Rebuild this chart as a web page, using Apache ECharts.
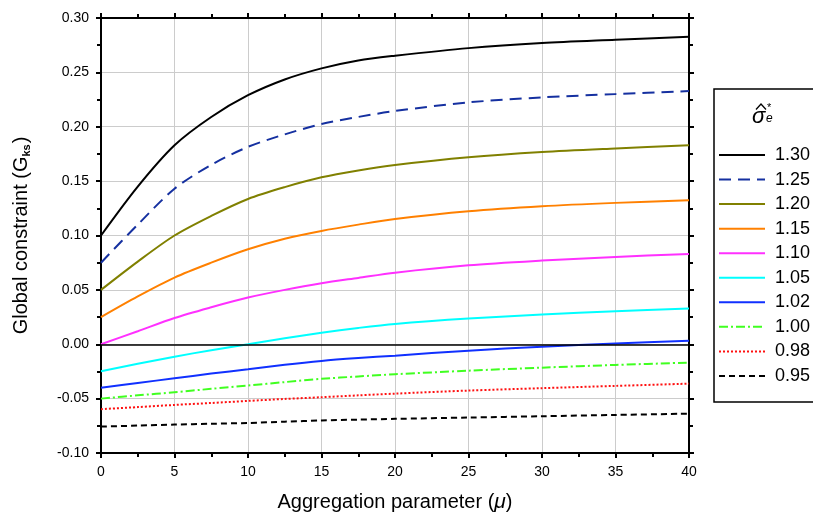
<!DOCTYPE html>
<html>
<head>
<meta charset="utf-8">
<script src="https://cdn.jsdelivr.net/npm/echarts@6/dist/echarts.min.js"></script>
<style>
  html, body { margin: 0; padding: 0; background: #fff; }
  #chart { width: 813px; height: 518px; }
</style>
</head>
<body>
<div id="chart"></div>
<script>
const FONT = 'Liberation Sans, Arial, sans-serif';

// aggregation parameter (mu) sample points
const muValues = [0, 2.5, 5, 7.5, 10, 12.5, 15, 17.5, 20, 25, 30, 35, 40];

// series names (sigma_e hat *)
const seriesNames = ['1.30', '1.25', '1.20', '1.15', '1.10', '1.05', '1.02', '1.00', '0.98', '0.95'];

// global constraint values
const g130 = [0.100, 0.145, 0.183, 0.209, 0.229, 0.2435, 0.2537, 0.261, 0.2653, 0.2723, 0.277, 0.280, 0.2828];
const g125 = [0.075, 0.110, 0.143, 0.165, 0.1815, 0.193, 0.2025, 0.209, 0.2145, 0.2224, 0.227, 0.230, 0.2328];
const g120 = [0.050, 0.076, 0.100, 0.118, 0.1336, 0.1445, 0.1535, 0.1598, 0.1648, 0.1719, 0.1767, 0.180, 0.1829];
const g115 = [0.025, 0.044, 0.0613, 0.075, 0.0873, 0.097, 0.1042, 0.110, 0.1152, 0.1223, 0.1269, 0.130, 0.1324];
const g110 = [0.000, 0.012, 0.0242, 0.034, 0.0429, 0.050, 0.0561, 0.061, 0.0658, 0.0726, 0.0769, 0.0803, 0.083];
const g105 = [-0.0248, -0.018, -0.0114, -0.0055, 0.000, 0.0055, 0.0106, 0.015, 0.0187, 0.0236, 0.0273, 0.0303, 0.0328];
const g102 = [-0.0399, -0.0356, -0.0313, -0.027, -0.023, -0.0188, -0.0153, -0.0127, -0.0105, -0.0059, -0.0022, 0.0006, 0.0033];
const g100 = [-0.050, -0.047, -0.0441, -0.041, -0.038, -0.0348, -0.0318, -0.0296, -0.0276, -0.0243, -0.0215, -0.019, -0.0169];
const g098 = [-0.0597, -0.0578, -0.0558, -0.054, -0.0521, -0.0503, -0.0487, -0.047, -0.0454, -0.0426, -0.0404, -0.0383, -0.0362];
const g095 = [-0.0757, -0.0748, -0.0739, -0.0731, -0.0724, -0.0712, -0.0701, -0.0693, -0.0686, -0.0674, -0.0662, -0.065, -0.0638];

const allValues = [g130, g125, g120, g115, g110, g105, g102, g100, g098, g095];

// line styles per series
const styles = [
    { color: '#000000', type: 'solid' },
    { color: '#1530a0', type: [12, 7] },
    { color: '#808000', type: 'solid' },
    { color: '#ff8000', type: 'solid' },
    { color: '#ff30ff', type: 'solid' },
    { color: '#00ffff', type: 'solid' },
    { color: '#1030ff', type: 'solid' },
    { color: '#40ff20', type: [9, 3, 2, 3] },
    { color: '#ff1010', type: [2, 2] },
    { color: '#000000', type: [6, 4] }
];

const chart = echarts.init(document.getElementById('chart'));

const series = seriesNames.map((name, i) => {
    const s = {
        name: name,
        type: 'line',
        symbol: 'none',
        smooth: 0.3,
        data: muValues.map((m, j) => [m, allValues[i][j]]),
        lineStyle: { color: styles[i].color, type: styles[i].type, width: 2 },
        itemStyle: { color: styles[i].color },
        z: 3
    };
    if (i === 0) {
        s.markLine = {
            silent: true,
            symbol: 'none',
            label: { show: false },
            lineStyle: { color: '#000', type: 'solid', width: 1.5 },
            data: [{ yAxis: 0 }]
        };
    }
    return s;
});

const xBase = {
    type: 'value',
    min: 0,
    max: 40,
    interval: 5,
    axisLine: { onZero: false, lineStyle: { color: '#000', width: 2 } },
    axisTick: { inside: false, length: 5, lineStyle: { color: '#000', width: 2 } },
    minorTick: { show: true, splitNumber: 2, length: 4, lineStyle: { color: '#000', width: 2 } }
};

const yBase = {
    type: 'value',
    min: -0.10,
    max: 0.30,
    interval: 0.05,
    axisLine: { onZero: false, lineStyle: { color: '#000', width: 2 } },
    axisTick: { inside: false, length: 5, lineStyle: { color: '#000', width: 2 } },
    minorTick: { show: true, splitNumber: 2, length: 4, lineStyle: { color: '#000', width: 2 } }
};

chart.setOption({
    animation: false,
    backgroundColor: '#fff',
    textStyle: { fontFamily: FONT },
    grid: { left: 101, right: 124, top: 18, bottom: 65, containLabel: false },
    xAxis: [
        Object.assign({}, xBase, {
            position: 'bottom',
            name: 'Aggregation parameter ({mu|μ})',
            nameLocation: 'middle',
            nameGap: 39,
            nameTextStyle: {
                fontSize: 20, color: '#000', fontFamily: FONT,
                rich: { mu: { fontSize: 21, fontStyle: 'italic', color: '#000', fontFamily: FONT } }
            },
            axisLabel: { color: '#000', fontSize: 14, margin: 12, fontFamily: FONT },
            splitLine: { show: true, lineStyle: { color: '#cccccc', width: 1 } }
        }),
        Object.assign({}, xBase, {
            position: 'top',
            axisLabel: { show: false },
            splitLine: { show: false }
        })
    ],
    yAxis: [
        Object.assign({}, yBase, {
            position: 'left',
            name: 'Global constraint (G{sub|ks})',
            nameLocation: 'middle',
            nameGap: 69,
            nameTextStyle: {
                fontSize: 20, color: '#000', fontFamily: FONT,
                rich: { sub: { fontSize: 11, fontWeight: 'bold', color: '#000', padding: [10, 1, 0, 0], fontFamily: FONT } }
            },
            axisLabel: {
                color: '#000', fontSize: 14, margin: 12, fontFamily: FONT,
                formatter: v => v.toFixed(2)
            },
            splitLine: { show: true, lineStyle: { color: '#cccccc', width: 1 } }
        }),
        Object.assign({}, yBase, {
            position: 'right',
            axisLabel: { show: false },
            splitLine: { show: false }
        })
    ],
    legend: {
        orient: 'vertical',
        left: 713,
        top: 141,
        itemWidth: 46,
        itemHeight: 14,
        itemGap: 6.55,
        itemStyle: { color: 'rgba(0,0,0,0)', borderWidth: 0, opacity: 0 },
        textStyle: { fontSize: 18, color: '#000', lineHeight: 14, fontFamily: FONT, padding: [0, 0, 0, 5] },
        data: seriesNames
    },
    graphic: [
        {
            type: 'rect',
            shape: { x: 714, y: 89, width: 130, height: 313 },
            style: { fill: 'none', stroke: '#000', lineWidth: 1.5 },
            silent: true
        },
        {
            type: 'text',
            left: 752,
            top: 106,
            style: { text: 'σ', font: 'italic 22px ' + FONT, fill: '#000' }
        },
        {
            type: 'polyline',
            shape: { points: [[756, 109.5], [761, 104], [766, 109.5]] },
            style: { stroke: '#000', lineWidth: 1.3, fill: 'none' },
            silent: true
        },
        {
            type: 'text',
            left: 767,
            top: 102,
            style: { text: '*', font: '11px ' + FONT, fill: '#000' }
        },
        {
            type: 'text',
            left: 766,
            top: 113,
            style: { text: 'e', font: 'italic 12px ' + FONT, fill: '#000' }
        }
    ],
    series: series
});
</script>
</body>
</html>
